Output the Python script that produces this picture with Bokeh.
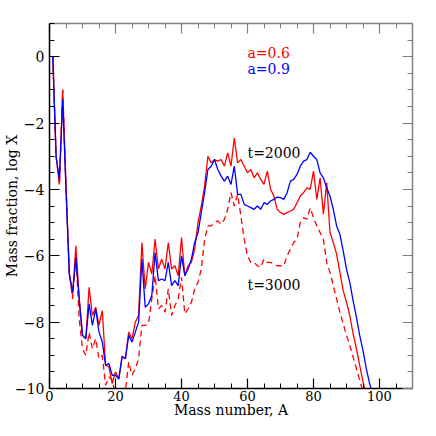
from bokeh.plotting import figure
from bokeh.models import LinearAxis, SingleIntervalTicker, Range1d, Label, CustomJSTickFormatter
from bokeh.embed import file_html
from bokeh.resources import INLINE

mass_number = list(range(1, 99))

# a=0.6, t=2000 (red solid)
red_t2000 = [0.0, -3.0, -3.85, -1.0, -3.9, -6.5, -7.2, -5.7, -7.3, -8.4,
             -8.5, -6.95, -7.8, -7.55, -8.1, -7.65, -9.3, -9.35, -9.85, -9.5,
             -9.7, -9.05, -9.1, -8.3, -8.5, -8.0, -7.8, -5.6, -7.0, -6.2,
             -6.55, -5.5, -6.4, -6.1, -6.4, -5.6, -6.4, -6.3, -6.6, -5.45,
             -6.6, -6.3, -6.2, -5.8, -5.0, -4.5, -3.9, -3.0, -3.2, -3.1,
             -3.15, -3.1, -3.3, -2.9, -3.3, -2.45, -3.2, -3.1, -3.3, -3.5,
             -3.4, -3.65, -3.5, -3.7, -3.85, -3.45, -4.0, -4.2, -4.6, -4.7,
             -4.75, -4.7, -4.65, -4.6, -4.4, -4.2, -4.1, -3.95, -4.0, -3.45,
             -4.3, -3.65, -4.75, -3.8, -5.3, -5.6, -5.95, -6.5, -7.05, -7.4,
             -7.8, -8.35, -8.8, -9.3, -9.8, -10.2]

# a=0.9, t=2000 (blue solid)
blue_t2000 = [0.0, -3.0, -3.7, -1.3, -4.0, -6.55, -7.1, -6.05, -7.3, -8.4,
              -8.5, -7.45, -8.1, -7.6, -8.3, -8.6, -9.3, -9.25, -9.6, -9.6,
              -9.72, -9.03, -9.1, -8.4, -8.6, -8.3, -8.0, -6.1, -7.55, -7.45,
              -7.2, -5.9, -6.75, -6.7, -6.75, -6.2, -6.9, -6.75, -6.9, -6.0,
              -6.6, -6.4, -6.1, -5.6, -5.3, -4.7, -4.1, -3.4, -3.3, -3.1,
              -3.4, -3.6, -3.75, -3.6, -3.85, -3.3, -4.15, -4.15, -4.45, -4.5,
              -4.55, -4.6, -4.5, -4.6, -4.4, -4.45, -4.35, -4.3, -4.23, -4.25,
              -4.3, -4.1, -3.75, -3.7, -3.55, -3.3, -3.15, -3.1, -2.88, -3.0,
              -3.1, -3.5, -3.65, -3.95, -4.2, -4.6, -5.1, -5.35, -5.85, -6.4,
              -6.8, -7.35, -7.85, -8.4, -8.85, -9.4, -9.85, -10.2]

# a=0.6, t=3000 (red dashed)
red_t3000 = [0.0, -3.0, -3.85, -1.0, -3.9, -6.5, -7.3, -6.0, -7.9, -8.8,
             -9.0, -8.3, -8.8, -8.5, -9.1, -9.0, -9.9, -9.65, -9.75, -10.2,
             -10.5, -10.4, -10.1, -9.2, -9.6, -9.4, -9.1, -8.1, -8.1, -8.05,
             -7.3, -6.6, -7.6, -7.5, -7.7, -7.0, -7.8, -7.5, -7.3, -6.65,
             -7.75, -7.6, -7.4, -7.0, -6.8, -6.4, -5.5, -5.1, -5.1, -5.0,
             -4.95, -5.05, -4.9, -4.6, -4.1, -4.5, -4.15, -4.8, -5.5, -6.0,
             -6.2, -6.2, -6.3, -6.35, -6.1, -6.2, -6.2, -6.25, -6.3, -6.3,
             -6.3, -6.0, -5.8, -5.6, -5.5, -5.0, -4.85, -4.9, -4.56, -4.85,
             -5.1, -5.3, -5.5, -6.2, -6.5, -6.9, -7.3, -7.7, -8.05, -8.4,
             -8.7, -9.05, -9.4, -9.75, -10.1]

y_tick_values = [0, -2, -4, -6, -8, -10]
y_tick_labels = ["0", "\u22122", "\u22124", "\u22126", "\u22128", "\u221210"]

FONT = "DejaVu Serif"

p = figure(width=420, height=420, output_backend="svg", toolbar_location=None,
           x_range=Range1d(0, 110), y_range=Range1d(-10, 1),
           x_axis_location=None, y_axis_location=None,
           min_border_left=10, min_border_right=8, min_border_top=23, min_border_bottom=10)
p.grid.visible = False
p.outline_line_color = None
p.background_fill_color = "white"
p.border_fill_color = "white"

xt = SingleIntervalTicker(interval=20, num_minor_ticks=4)
yt = SingleIntervalTicker(interval=2, num_minor_ticks=4)


def style_axis(ax, color, labels):
    ax.axis_line_color = color
    ax.axis_line_width = 1.5
    ax.major_tick_line_color = color
    ax.minor_tick_line_color = color
    ax.major_tick_in = 10
    ax.major_tick_out = 0
    ax.minor_tick_in = 5
    ax.minor_tick_out = 0
    ax.major_tick_line_width = 1.2
    ax.minor_tick_line_width = 1.0
    if labels:
        ax.major_label_text_font = FONT
        ax.major_label_text_font_size = "14px"
        ax.major_label_text_color = "black"
        ax.axis_label_text_font = FONT
        ax.axis_label_text_font_size = "14px"
        ax.axis_label_text_font_style = "normal"
        ax.axis_label_text_color = "black"
    else:
        ax.formatter = CustomJSTickFormatter(code="return '';")
        ax.major_label_standoff = 0


xb = LinearAxis(ticker=xt, axis_label="Mass number, A")
style_axis(xb, "black", True)
xb.major_label_text_font_size = "13px"
xb.major_label_standoff = 2
xb.axis_label_standoff = -2
p.add_layout(xb, "below")

yl = LinearAxis(ticker=yt, axis_label="Mass fraction, log X")
style_axis(yl, "black", True)
yl.major_label_standoff = 5
yl.axis_label_standoff = -8
yl.major_label_overrides = {v: s for v, s in zip(y_tick_values, y_tick_labels)}
p.add_layout(yl, "left")

xa = LinearAxis(ticker=xt)
style_axis(xa, "#808080", False)
p.add_layout(xa, "above")

yr = LinearAxis(ticker=yt)
style_axis(yr, "#808080", False)
p.add_layout(yr, "right")

p.line(mass_number[:len(red_t3000)], red_t3000, line_color="#ff0000", line_width=1.3,
       line_dash="6 4")
p.line(mass_number[:len(red_t2000)], red_t2000, line_color="#ff0000", line_width=1.3)
p.line(mass_number[:len(blue_t2000)], blue_t2000, line_color="#0000ff", line_width=1.3)

for txt, x, y, col in [("a=0.6", 60, 0.12, "#ff0000"), ("a=0.9", 60, -0.36, "#0000ff"),
                       ("t=2000", 60, -2.9, "black"), ("t=3000", 60, -6.87, "black")]:
    p.add_layout(Label(x=x, y=y, text=txt, text_color=col, text_font=FONT,
                       text_font_size="14px", text_baseline="middle", text_align="left"))

open("out.html", "w").write(file_html(p, INLINE))
